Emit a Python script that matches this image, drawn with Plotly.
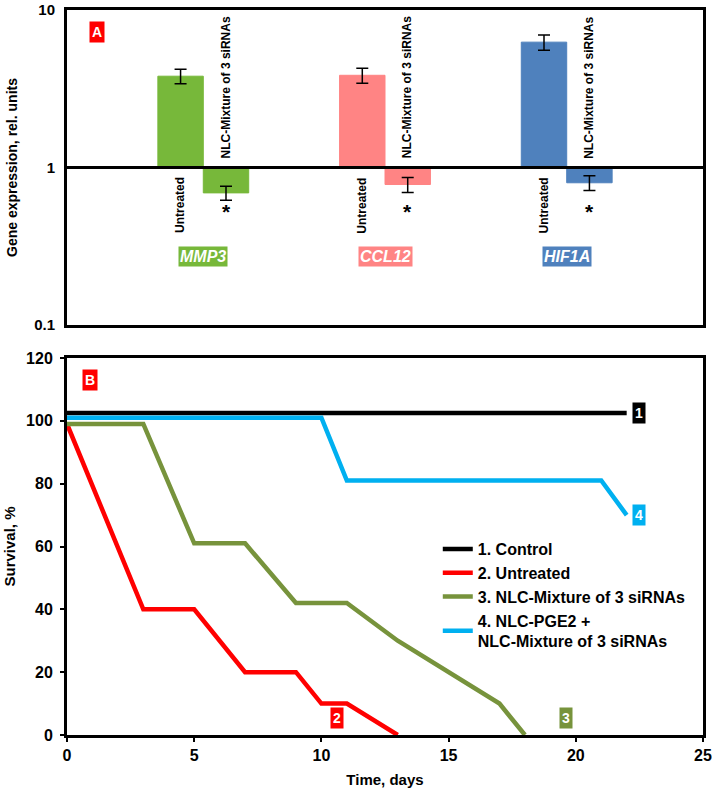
import math
import plotly.graph_objects as go
from plotly.subplots import make_subplots

# Panel A: gene expression (log scale)
genes = ['MMP3', 'CCL12', 'HIF1A']
gene_pos = [1, 2, 3]
untreated = [3.8, 3.85, 6.25]
untreated_err = [0.4, 0.42, 0.7]
nlc_mix = [0.69, 0.78, 0.80]
nlc_mix_err = [0.07, 0.085, 0.085]
gene_colors = ['#77B83A', '#FF8484', '#4F81BD']

# Panel B: survival curves
ctrl_t = [0, 22]
ctrl_s = [102.5, 102.5]
untr_t = [0, 3, 5, 7, 9, 10, 11, 13]
untr_s = [99, 40, 40, 20, 20, 10, 10, 0]
mix_t = [0, 3, 5, 7, 9, 11, 13, 17, 18]
mix_s = [99, 99, 61, 61, 42, 42, 30, 10, 0]
pge_t = [0, 10, 11, 21, 22]
pge_s = [101, 101, 81, 81, 70]

FONT = 'Liberation Sans'
bw = 0.25

fig = make_subplots(rows=2, cols=1, vertical_spacing=0.0)

for i in range(3):
    fig.add_trace(go.Bar(
        x=[gene_pos[i] - bw / 2], y=[untreated[i] - 1], base=[1], width=bw,
        marker=dict(color=gene_colors[i], line=dict(color=gene_colors[i], width=1)),
        error_y=dict(type='data', array=[untreated_err[i]], color='black', thickness=1.5, width=6),
        showlegend=False), row=1, col=1)
    fig.add_trace(go.Bar(
        x=[gene_pos[i] + bw / 2], y=[nlc_mix[i] - 1], base=[1], width=bw,
        marker=dict(color=gene_colors[i], line=dict(color=gene_colors[i], width=1)),
        error_y=dict(type='data', array=[nlc_mix_err[i]], color='black', thickness=1.5, width=6),
        showlegend=False), row=1, col=1)

    # rotated bar labels
    fig.add_annotation(x=gene_pos[i] - bw / 2, y=-0.05, xref='x', yref='y', text='Untreated',
                       textangle=-90, showarrow=False, yanchor='top',
                       font=dict(family=FONT, size=12, color='black', weight='bold'))
    fig.add_annotation(x=gene_pos[i] + bw / 2, y=0.045, xref='x', yref='y', text='NLC-Mixture of 3 siRNAs',
                       textangle=-90, showarrow=False, yanchor='bottom',
                       font=dict(family=FONT, size=12, color='black', weight='bold'))
    fig.add_annotation(x=gene_pos[i] + bw / 2, y=-0.28, xref='x', yref='y', text='*',
                       showarrow=False, font=dict(family=FONT, size=21, color='black', weight='bold'))
    fig.add_annotation(x=gene_pos[i], y=-0.567, xref='x', yref='y', text='<i>' + genes[i] + '</i>',
                       showarrow=False, bgcolor=gene_colors[i], borderpad=1,
                       font=dict(family=FONT, size=16, color='white', weight='bold'))

fig.add_hline(y=1, line=dict(color='black', width=3), row=1, col=1)

fig.add_trace(go.Scatter(x=ctrl_t, y=ctrl_s, mode='lines', name='1. Control',
                         line=dict(color='black', width=4.5)), row=2, col=1)
fig.add_trace(go.Scatter(x=untr_t, y=untr_s, mode='lines', name='2. Untreated',
                         line=dict(color='#FF0000', width=4.5)), row=2, col=1)
fig.add_trace(go.Scatter(x=mix_t, y=mix_s, mode='lines', name='3. NLC-Mixture of 3 siRNAs',
                         line=dict(color='#77933C', width=4.5)), row=2, col=1)
fig.add_trace(go.Scatter(x=pge_t, y=pge_s, mode='lines', name='4. NLC-PGE2 +<br>NLC-Mixture of 3 siRNAs',
                         line=dict(color='#00B0F0', width=4.5)), row=2, col=1)

# curve number tags
tags = [('1', 22.5, 102.5, 'black'), ('4', 22.5, 70, '#00B0F0'),
        ('2', 10.6, 5.5, '#FF0000'), ('3', 19.6, 5.5, '#77933C')]
for txt, tx, ty, col in tags:
    fig.add_annotation(x=tx, y=ty, xref='x2', yref='y2', text=txt, showarrow=False,
                       bgcolor=col, borderpad=2,
                       font=dict(family=FONT, size=14, color='white', weight='bold'))

# panel letters
fig.add_annotation(x=0.035, y=0.86, xref='paper', yref='y', text='A', showarrow=False,
                   bgcolor='#FF0000', borderpad=2, font=dict(family=FONT, size=14, color='white', weight='bold'))
fig.add_annotation(x=0.9, y=113, xref='x2', yref='y2', text='B', showarrow=False,
                   bgcolor='#FF0000', borderpad=2, font=dict(family=FONT, size=14, color='white', weight='bold'))

tick_top = dict(family=FONT, size=15, color='black', weight='bold')
tick_bot = dict(family=FONT, size=16, color='black', weight='bold')
title_font = dict(family=FONT, size=15, color='black', weight='bold')

fig.update_xaxes(range=[0.25, 3.75], showticklabels=False, ticks='', showgrid=False, zeroline=False,
                 showline=True, mirror=True, linecolor='black', linewidth=3, automargin=False,
                 row=1, col=1)
fig.update_yaxes(type='log', range=[-1, 1], tickvals=[0.1, 1, 10], ticktext=['0.1', '1', '10'],
                 showgrid=False, showline=True, mirror=True, linecolor='black', linewidth=3,
                 ticks='', tickfont=tick_top, automargin=False, ticklabelstandoff=6,
                 title=dict(text='Gene expression, rel. units',
                            font=dict(family=FONT, size=14, color='black', weight='bold'), standoff=14),
                 domain=[0.5655, 1.0], row=1, col=1)

fig.update_xaxes(range=[0, 25], dtick=5, showgrid=False, zeroline=False, showline=True, mirror=True,
                 linecolor='black', linewidth=3, ticks='outside', ticklen=4, tickwidth=2, tickcolor='black',
                 tickfont=tick_bot, automargin=False,
                 title=dict(text='Time, days', font=title_font, standoff=12),
                 row=2, col=1)
fig.update_yaxes(range=[0, 120], dtick=20, showgrid=False, zeroline=False, showline=True, mirror=True,
                 linecolor='black', linewidth=3, ticks='outside', ticklen=4, tickwidth=2, tickcolor='black',
                 tickfont=tick_bot, automargin=False, ticklabelstandoff=4,
                 title=dict(text='Survival, %', font=title_font, standoff=7),
                 domain=[0.0, 0.52], row=2, col=1)

fig.update_layout(
    width=712, height=792,
    margin=dict(l=67, r=9, t=10, b=57),
    plot_bgcolor='white', paper_bgcolor='white',
    barmode='overlay',
    legend=dict(x=0.583, y=0.280, xanchor='left', yanchor='top', bgcolor='rgba(0,0,0,0)',
                font=dict(family=FONT, size=16, color='black', weight='bold'),
                tracegroupgap=2),
)

fig.write_html("out.html", config={'displayModeBar': False},
               post_script="document.body.style.margin='0';")
